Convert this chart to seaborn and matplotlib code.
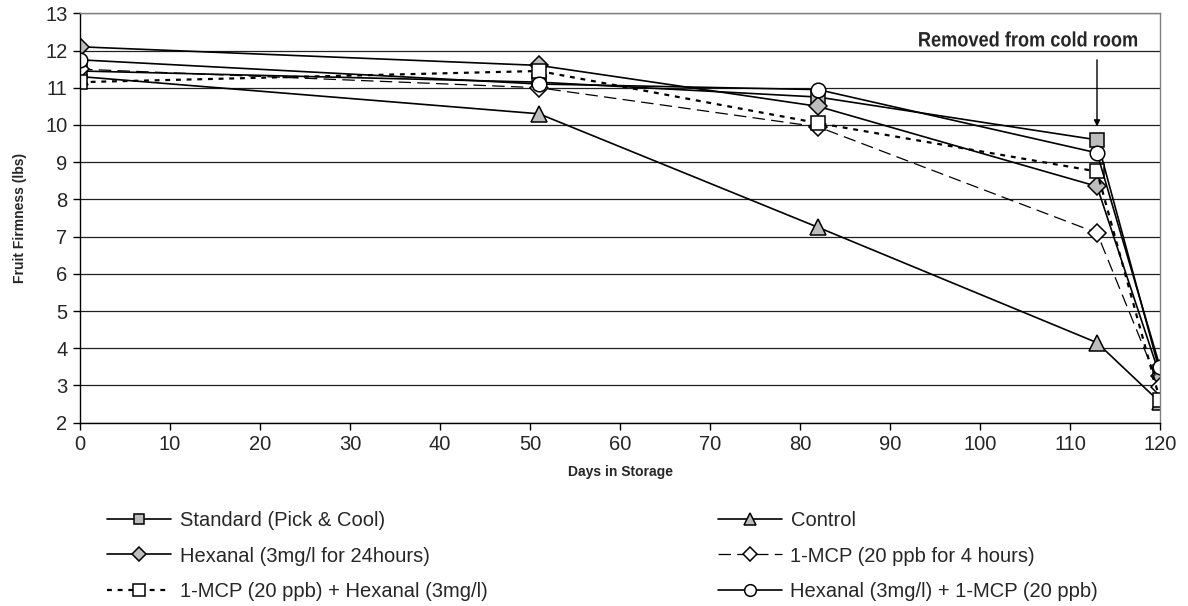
import matplotlib
matplotlib.use("Agg")
import matplotlib.pyplot as plt
import matplotlib.patheffects as pe
from matplotlib.transforms import Affine2D
import seaborn as sns
import pandas as pd

days = [0, 51, 82, 113, 120]
standard = [11.45, 11.15, 10.75, 9.6, 3.35]
control = [11.3, 10.3, 7.25, 4.15, 2.55]
hexanal = [12.1, 11.6, 10.5, 8.35, 3.25]
mcp = [11.5, 11.0, 9.95, 7.1, 2.95]
mcp_hex = [11.15, 11.45, 10.05, 8.75, 2.6]
hex_mcp = [11.75, 11.1, 10.95, 9.25, 3.5]

labels = ["Standard (Pick & Cool)", "Control", "Hexanal (3mg/l for 24hours)",
          "1-MCP (20 ppb for 4 hours)", "1-MCP (20 ppb) + Hexanal (3mg/l)",
          "Hexanal (3mg/l) + 1-MCP (20 ppb)"]
series = [standard, control, hexanal, mcp, mcp_hex, hex_mcp]
x_ticks = list(range(0, 121, 10))
y_ticks = list(range(2, 14))
annotation_text = "Removed from cold room"

rows = []
for lab, vals in zip(labels, series):
    for d, v in zip(days, vals):
        rows.append({"Days": d, "Firmness": v, "Treatment": lab})
df = pd.DataFrame(rows)

sns.set_theme(style="white")
plt.rcParams['font.family'] = ['Liberation Sans', 'DejaVu Sans']


class Squeeze(pe.AbstractPathEffect):
    """Draw text condensed horizontally (text stays a Text artist)."""
    def __init__(self, sx):
        super().__init__()
        self.sx = sx

    def draw_path(self, renderer, gc, tpath, affine, rgbFace=None):
        renderer.draw_path(gc, tpath, Affine2D().scale(self.sx, 1.0) + affine, rgbFace)


fig = plt.figure(figsize=(11.88, 6.06), dpi=100)
ax = fig.add_axes([80/1188, 1 - 422.7/606, 1080/1188, 409.4/606])

gray = "#bdbdbd"
styles = {
    labels[0]: dict(marker="s", mfc=gray, ls="-", ms=9.5),
    labels[1]: dict(marker="^", mfc=gray, ls="-", ms=11),
    labels[2]: dict(marker="D", mfc=gray, ls="-", ms=9),
    labels[3]: dict(marker="D", mfc="white", ls=(0, (10, 5)), ms=9, lw=0.9),
    labels[4]: dict(marker="s", mfc="white", ls=(0, (2.2, 2.6)), ms=10, lw=1.6),
    labels[5]: dict(marker="o", mfc="white", ls="-", ms=10.5),
}

handles = {}
for lab in labels:
    sub = df[df["Treatment"] == lab]
    st = styles[lab]
    sns.lineplot(data=sub, x="Days", y="Firmness", ax=ax, color="black",
                 linewidth=st.get("lw", 1.2), linestyle=st["ls"],
                 marker=st["marker"], markersize=st["ms"],
                 markerfacecolor=st["mfc"], markeredgecolor="black",
                 markeredgewidth=1.1, label=lab, legend=False)
    handles[lab] = ax.lines[-1]

ax.set_xlim(0, 120)
ax.set_ylim(2, 13)
ax.set_xticks(x_ticks)
ax.set_yticks(y_ticks)
ax.grid(axis="y", color="#202020", linewidth=0.9)
ax.grid(axis="x", visible=False)
ax.set_axisbelow(True)
for s in ["top", "right"]:
    ax.spines[s].set_color("#808080")
    ax.spines[s].set_linewidth(1.0)
for s in ["left", "bottom"]:
    ax.spines[s].set_color("black")
    ax.spines[s].set_linewidth(1.0)
ax.tick_params(axis="both", which="major", direction="out", length=5,
               width=1, color="black", labelsize=14.5, pad=4, left=True, bottom=True)
ax.set_xlabel("Days in Storage", fontsize=10, fontweight="bold", labelpad=8)
ax.set_ylabel("Fruit Firmness (lbs)", fontsize=10, fontweight="bold", labelpad=13)

ax.annotate("", xy=(113, 9.96), xytext=(113, 11.75),
            arrowprops=dict(arrowstyle="-|>", color="black", lw=1,
                            mutation_scale=9, shrinkA=0, shrinkB=0))
ax.text(93.1, 12.11, annotation_text, ha="left", va="baseline",
        fontsize=15, fontweight="bold", path_effects=[Squeeze(0.873)])

left_order = [labels[0], labels[2], labels[4]]
right_order = [labels[1], labels[3], labels[5]]
common = dict(loc="upper left", frameon=False, fontsize=14.5, handlelength=3.2,
              handletextpad=0.4, labelspacing=0.82, markerscale=0.8,
              borderaxespad=0, borderpad=0)
fig.legend([handles[l] for l in left_order], left_order,
           bbox_to_anchor=(107/1188, 1 - 511/606), **common)
fig.legend([handles[l] for l in right_order], right_order,
           bbox_to_anchor=(718/1188, 1 - 511/606), **common)

fig.savefig("out.png", dpi=100)
